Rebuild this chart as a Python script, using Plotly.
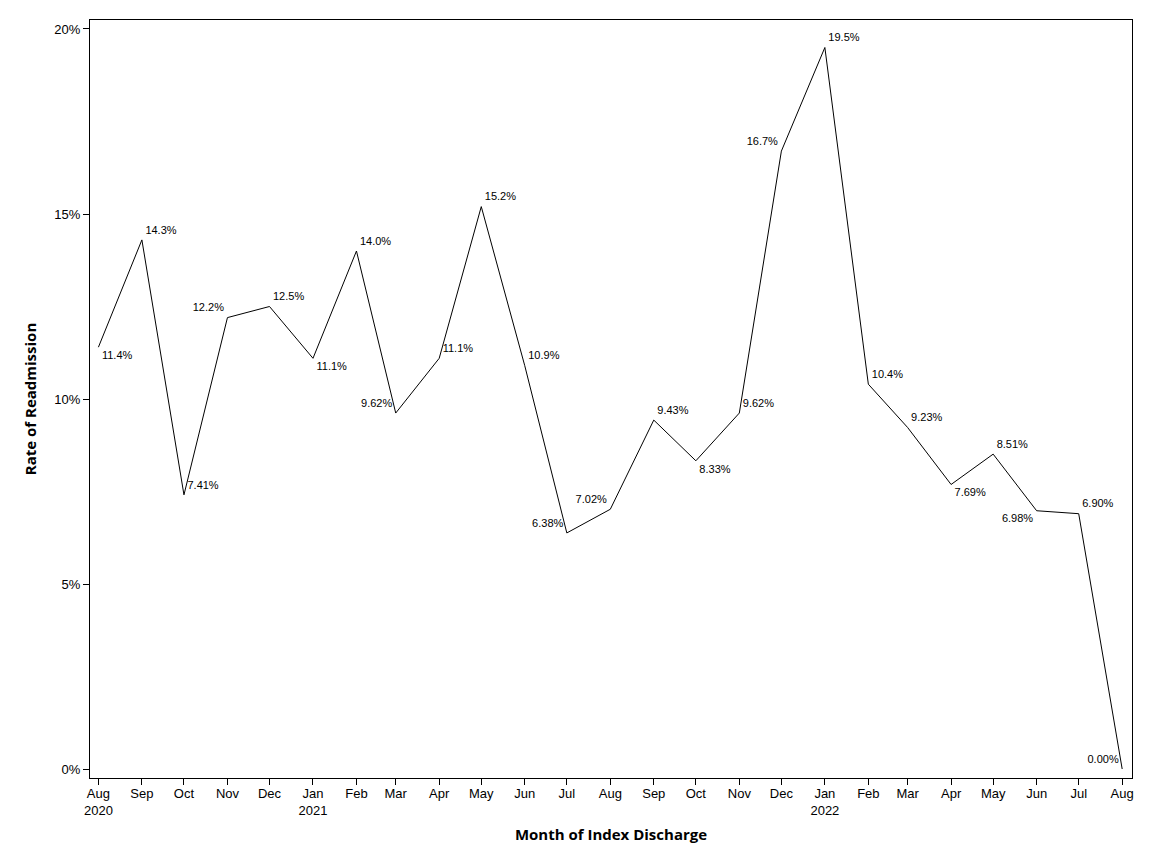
import plotly.graph_objects as go

months = ["2020-08-01", "2020-09-01", "2020-10-01", "2020-11-01", "2020-12-01",
          "2021-01-01", "2021-02-01", "2021-03-01", "2021-04-01", "2021-05-01",
          "2021-06-01", "2021-07-01", "2021-08-01", "2021-09-01", "2021-10-01",
          "2021-11-01", "2021-12-01", "2022-01-01", "2022-02-01", "2022-03-01",
          "2022-04-01", "2022-05-01", "2022-06-01", "2022-07-01", "2022-08-01"]
rates = [11.4, 14.3, 7.41, 12.2, 12.5, 11.1, 14.0, 9.62, 11.1, 15.2, 10.9, 6.38,
         7.02, 9.43, 8.33, 9.62, 16.7, 19.5, 10.4, 9.23, 7.69, 8.51, 6.98, 6.90, 0.00]
labels = ["11.4%", "14.3%", "7.41%", "12.2%", "12.5%", "11.1%", "14.0%", "9.62%",
          "11.1%", "15.2%", "10.9%", "6.38%", "7.02%", "9.43%", "8.33%", "9.62%",
          "16.7%", "19.5%", "10.4%", "9.23%", "7.69%", "8.51%", "6.98%", "6.90%", "0.00%"]
label_pos = ["bottom right", "top right", "top right", "top left", "top right",
             "bottom right", "top right", "top left", "top right", "top right",
             "top right", "top left", "top left", "top right", "bottom right",
             "top right", "top left", "top right", "top right", "top right",
             "bottom right", "top right", "bottom left", "top right", "top left"]
tick_text = ["Aug<br>2020", "Sep", "Oct", "Nov", "Dec", "Jan<br>2021", "Feb", "Mar",
             "Apr", "May", "Jun", "Jul", "Aug", "Sep", "Oct", "Nov", "Dec",
             "Jan<br>2022", "Feb", "Mar", "Apr", "May", "Jun", "Jul", "Aug"]
y_ticks = [0, 5, 10, 15, 20]
y_tick_text = ["0%", "5%", "10%", "15%", "20%"]

lab_font = "Liberation Sans, Arial, sans-serif"
title_font = "Open Sans, sans-serif"

fig = go.Figure()
fig.add_trace(go.Scatter(
    x=months, y=rates, mode="lines+markers+text",
    line=dict(color="black", width=1),
    marker=dict(size=4, color="rgba(0,0,0,0)"),
    text=labels, textposition=label_pos,
    textfont=dict(family=lab_font, size=11, color="black"),
    cliponaxis=False, showlegend=False, hoverinfo="skip",
))

fig.update_layout(
    width=1144, height=856,
    margin=dict(l=82, r=20, t=12, b=86),
    paper_bgcolor="white", plot_bgcolor="white",
    xaxis=dict(
        type="date", range=["2020-07-26", "2022-08-08"],
        tickvals=months, ticktext=tick_text,
        ticks="outside", ticklen=6, tickcolor="black", tickwidth=1,
        ticklabelstandoff=-3,
        showline=True, linecolor="black", linewidth=1, mirror=True,
        showgrid=False, zeroline=False,
        tickfont=dict(family=lab_font, size=13, color="black"),
        title=dict(text="<b>Month of Index Discharge</b>",
                   font=dict(family=title_font, size=15, color="black"), standoff=12),
    ),
    yaxis=dict(
        range=[-0.243, 20.243],
        tickvals=y_ticks, ticktext=y_tick_text,
        ticks="outside", ticklen=6, tickcolor="black", tickwidth=1,
        showline=True, linecolor="black", linewidth=1, mirror=True,
        showgrid=False, zeroline=False,
        tickfont=dict(family=lab_font, size=13, color="black"),
        title=dict(text="<b>Rate of Readmission</b>",
                   font=dict(family=title_font, size=15, color="black"), standoff=14),
    ),
)

fig.write_html("out.html")
